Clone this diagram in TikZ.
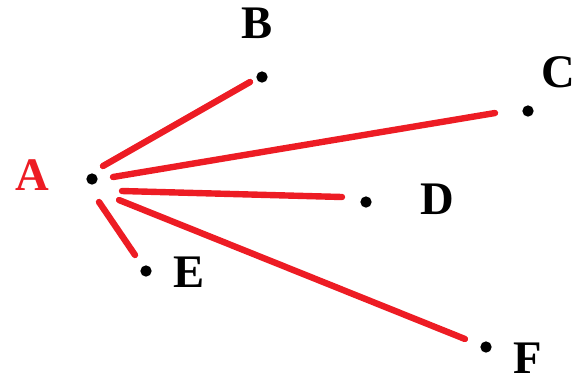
\documentclass[tikz,border=0pt]{standalone}
\usepackage{fontspec}
\setmainfont{Liberation Serif}
\definecolor{pred}{HTML}{ED1C24}
\begin{document}
\begin{tikzpicture}[x=0.75pt,y=-0.75pt,
  dot/.style={circle,fill=black,inner sep=0pt,minimum size=8.5pt},
  lbl/.style={font=\fontsize{35}{35}\selectfont\bfseries,inner sep=0pt,text=black},
  edge/.style={draw=pred,line width=4.8pt,line cap=round}]
\useasboundingbox (0,0) rectangle (577,380);
\node[dot] (A) at (92,179) {};
\node[dot] (B) at (262,77) {};
\node[dot] (C) at (528,111) {};
\node[dot] (D) at (366,202) {};
\node[dot] (E) at (146,271) {};
\node[dot] (F) at (486,347) {};
\node[lbl,text=pred] (lA) at (32,175) {A};
\node[lbl] (lB) at (257,23) {B};
\node[lbl] (lC) at (558,72) {C};
\node[lbl] (lD) at (437,199) {D};
\node[lbl] (lE) at (189,272) {E};
\node[lbl] (lF) at (528,358) {F};
\coordinate (aB) at (103,166);
\coordinate (bA) at (250,82);
\coordinate (aC) at (113,177);
\coordinate (cA) at (495,113);
\coordinate (aD) at (122,191);
\coordinate (dA) at (342,197);
\coordinate (aF) at (119,200);
\coordinate (fA) at (465,339);
\coordinate (aE) at (99,202);
\coordinate (eA) at (135,255);
\draw[edge] (aB) -- (bA);
\draw[edge] (aC) -- (cA);
\draw[edge] (aD) -- (dA);
\draw[edge] (aF) -- (fA);
\draw[edge] (aE) -- (eA);
\end{tikzpicture}
\end{document}
